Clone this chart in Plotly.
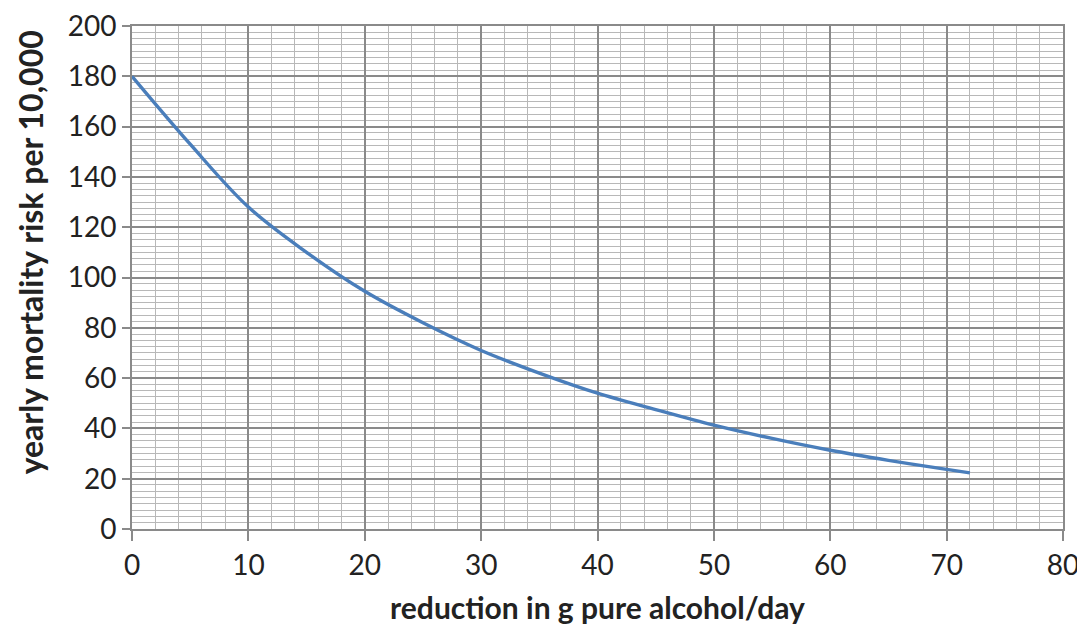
import plotly.graph_objects as go

reduction_g = [0, 5, 10, 15, 20, 25, 30, 35, 40, 45, 50, 55, 60, 65, 70, 72]
mortality_risk = [180, 153, 128, 110, 94.5, 82, 71, 62, 54, 47.5, 41.3, 36, 31.3, 27.3, 23.7, 22.3]

x_ticks = [0, 10, 20, 30, 40, 50, 60, 70, 80]
y_ticks = [0, 20, 40, 60, 80, 100, 120, 140, 160, 180, 200]
x_minor_step = 2
y_minor_step = 2.5

font_family = "Lato, 'Open Sans', sans-serif"

fig = go.Figure()
fig.add_trace(go.Scatter(
    x=reduction_g, y=mortality_risk, mode="lines",
    line=dict(color="#4a7ebb", width=3.4, shape="spline", smoothing=1.0),
    showlegend=False,
))

fig.update_layout(
    width=1077, height=625,
    margin=dict(l=124, r=22, t=18, b=104, autoexpand=False),
    paper_bgcolor="white", plot_bgcolor="white",
    font=dict(family=font_family, color="#222222", size=28),
)

fig.update_xaxes(
    range=[x_ticks[0], x_ticks[-1]],
    tickmode="linear", tick0=x_ticks[0], dtick=x_ticks[1] - x_ticks[0],
    showgrid=True, gridcolor="#8a8a8a", gridwidth=1.8,
    minor=dict(tickmode="linear", tick0=0, dtick=x_minor_step, showgrid=True,
               gridcolor="#b8b8b8", gridwidth=1.4, ticks=""),
    ticks="outside", ticklen=10, tickcolor="#8a8a8a", tickwidth=1.8,
    showline=True, mirror=True, linecolor="#8a8a8a", linewidth=1.8, zeroline=False,
    tickfont=dict(size=28), automargin=False, ticklabeloverflow="allow",
    title=dict(text="<b>reduction in g pure alcohol/day</b>", font=dict(size=30), standoff=18),
)
fig.update_yaxes(
    range=[y_ticks[0], y_ticks[-1]],
    tickmode="linear", tick0=y_ticks[0], dtick=y_ticks[1] - y_ticks[0],
    showgrid=True, gridcolor="#8a8a8a", gridwidth=1.8,
    minor=dict(tickmode="linear", tick0=0, dtick=y_minor_step, showgrid=True,
               gridcolor="#b8b8b8", gridwidth=1.4, ticks=""),
    ticks="outside", ticklen=8, tickcolor="#8a8a8a", tickwidth=1.8,
    showline=True, mirror=True, linecolor="#8a8a8a", linewidth=1.8, zeroline=False,
    tickfont=dict(size=28), automargin=False, ticklabeloverflow="allow",
)

fig.add_annotation(
    text="<b>yearly mortality risk per 10,000</b>",
    xref="paper", yref="paper", x=0, y=0.55,
    xanchor="center", yanchor="middle", xshift=-102,
    textangle=-90, showarrow=False, font=dict(size=32, color="#222222"),
)

fig.write_html("out.html")
